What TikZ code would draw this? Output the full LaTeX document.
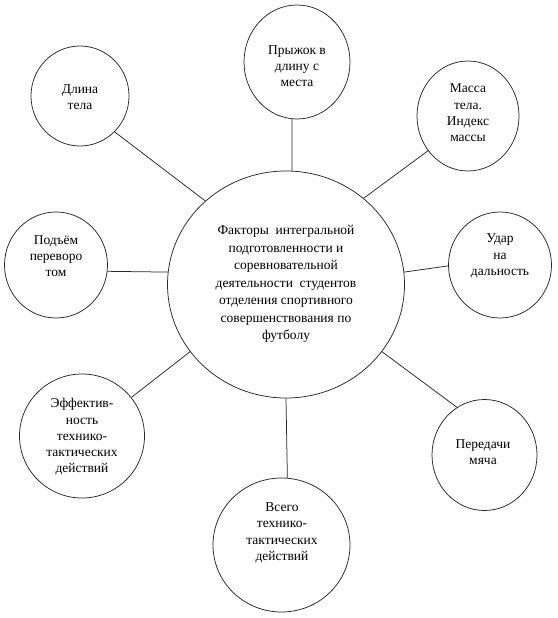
\documentclass[tikz,border=0pt]{standalone}
\usepackage{fontspec}
\setmainfont{Liberation Serif}
\newfontfamily\serfont{Liberation Serif}
\usetikzlibrary{shapes.geometric}
\begin{document}
\begin{tikzpicture}[x=1pt,y=-1pt,
  bub/.style={draw=black!85,line width=0.75pt,ellipse,inner sep=0pt},
  txt/.style={align=center,inner sep=0pt,font=\serfont\fontsize{13.5}{16.3}\selectfont},
  ctxt/.style={align=center,inner sep=0pt,font=\serfont\fontsize{13.5}{17.5}\selectfont},
  con/.style={draw=black!85,line width=0.75pt}]
\useasboundingbox (0,0) rectangle (557,618);
\node[bub,minimum width=237pt,minimum height=227pt] (c) at (286,284.5) {};
\node[bub,minimum width=106pt,minimum height=114pt] (p) at (297,62) {};
\node[bub,minimum width=98pt,minimum height=100pt] (d) at (80,96) {};
\node[bub,minimum width=102pt,minimum height=110pt] (m) at (468,116) {};
\node[bub,minimum width=103pt,minimum height=106pt] (po) at (56,265) {};
\node[bub,minimum width=103pt,minimum height=106pt] (u) at (500,265) {};
\node[bub,minimum width=125pt,minimum height=124pt] (e) at (82,436) {};
\node[bub,minimum width=105pt,minimum height=111pt] (pe) at (484.5,455) {};
\node[bub,minimum width=137pt,minimum height=134pt] (v) at (281.5,545) {};

\node[ctxt] (tc) at (286,284) {Факторы \ интегральной\\подготовленности и\\соревновательной\\деятельности \ студентов\\отделения спортивного\\совершенствования по\\футболу};
\node[txt] (tp) at (297,66) {Прыжок в\\длину с\\места};
\node[txt] (td) at (80,97) {Длина\\тела};
\node[txt] (tm) at (468,113) {Масса\\тела.\\Индекс\\массы};
\node[txt] (tpo) at (56,256) {Подъём\\переворо\\том};
\node[txt] (tu) at (500,256) {Удар\\на\\дальность};
\node[txt] (te) at (82,437) {Эффектив-\\ность\\технико-\\тактических\\действий};
\node[txt] (tpe) at (483,452) {Передачи\\мяча};
\node[txt] (tv) at (282,533) {Всего\\технико-\\тактических\\действий};

\draw[con] (p.265) -- (c.87);
\draw[con] (d.314) -- (c.134);
\draw[con] (m.221) -- (c.48);
\draw[con] (po.353) -- (c.174);
\draw[con] (u.181) -- (c.6);
\draw[con] (e.38) -- (c.215);
\draw[con] (pe.120) -- (c.325);
\draw[con] (v.85) -- (c.270.5);
\end{tikzpicture}
\end{document}
